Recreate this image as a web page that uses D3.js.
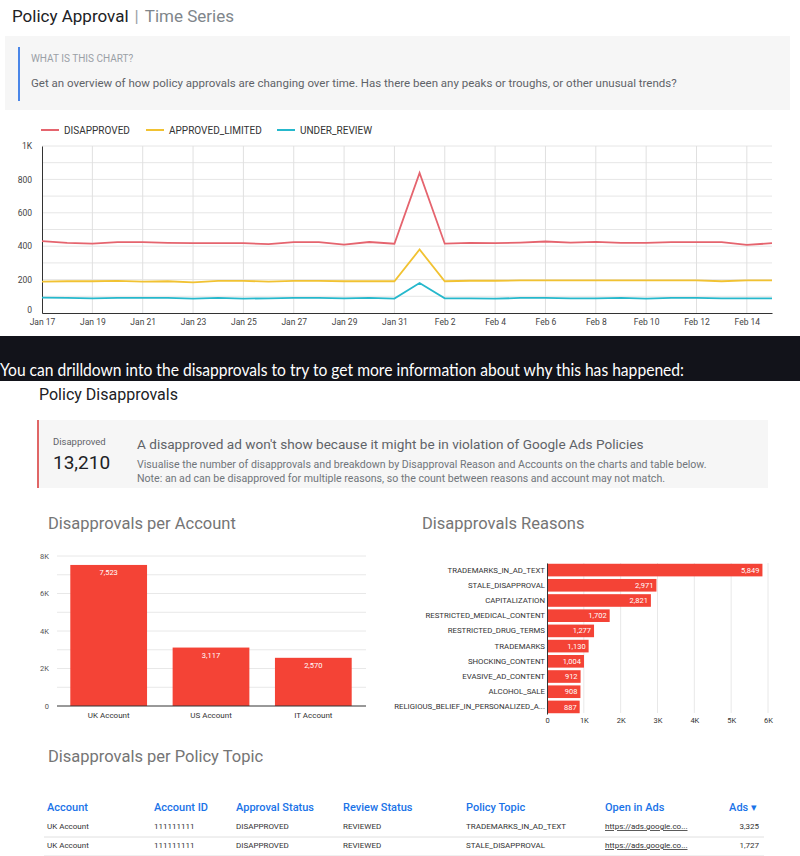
<!DOCTYPE html>
<html><head><meta charset="utf-8">
<script src="https://cdn.jsdelivr.net/npm/d3@7"></script>
<style>
body{margin:0;background:#fff;}
svg{display:block;}
</style></head>
<body>
<svg id="c" width="800" height="856"></svg>
<script>
// ---------- DATA ----------
const startDate = "2021-01-17";
const disapproved = [430,420,415,425,425,420,418,418,418,412,425,425,410,425,415,838,415,420,418,422,428,422,426,420,420,424,425,424,408,418];
const approvedLimited = [188,190,190,192,188,190,183,192,192,188,192,192,190,190,190,380,190,193,193,195,195,195,195,195,195,195,195,190,195,195];
const underReview = [92,90,88,90,90,90,86,90,86,88,90,90,88,90,86,180,88,88,86,90,90,88,88,90,86,90,90,88,88,88];
const seriesNames = ["DISAPPROVED","APPROVED_LIMITED","UNDER_REVIEW"];
const seriesColors = ["#e5646e","#f1c232","#26b8cc"];
const lineYTicks = [0,200,400,600,800,1000];

const accounts = ["UK Account","US Account","IT Account"];
const accountValues = [7523,3117,2570];
const accountYTicks = [0,2000,4000,6000,8000];

const reasons = ["TRADEMARKS_IN_AD_TEXT","STALE_DISAPPROVAL","CAPITALIZATION","RESTRICTED_MEDICAL_CONTENT","RESTRICTED_DRUG_TERMS","TRADEMARKS","SHOCKING_CONTENT","EVASIVE_AD_CONTENT","ALCOHOL_SALE","RELIGIOUS_BELIEF_IN_PERSONALIZED_A..."];
const reasonValues = [5849,2971,2821,1702,1277,1130,1004,912,908,887];
const reasonXTicks = [0,1000,2000,3000,4000,5000,6000];

const tableHeaders = ["Account","Account ID","Approval Status","Review Status","Policy Topic","Open in Ads","Ads ▾"];
const tableRows = [
  ["UK Account","111111111","DISAPPROVED","REVIEWED","TRADEMARKS_IN_AD_TEXT","https://ads.google.co...","3,325"],
  ["UK Account","111111111","DISAPPROVED","REVIEWED","STALE_DISAPPROVAL","https://ads.google.co...","1,727"]
];
const totalDisapproved = "13,210";

// ---------- DRAW ----------
const svg = d3.select("#c");
const F = "Roboto, 'Noto Sans', sans-serif";
const kfmt = d => d===0 ? "0" : (d>=1000 ? d3.format("~s")(d).replace("k","K") : d);

// Header
const h = svg.append("text").attr("x",12).attr("y",22).attr("font-family",F).attr("font-size",17);
h.append("tspan").attr("fill","#202124").text("Policy Approval");
h.append("tspan").attr("fill","#9aa0a6").attr("dx",6).text("|");
h.append("tspan").attr("fill","#80868b").attr("dx",6).text("Time Series");

svg.append("rect").attr("x",5).attr("y",36).attr("width",785).attr("height",74).attr("fill","#f6f6f6");
svg.append("rect").attr("x",18).attr("y",47).attr("width",2).attr("height",54).attr("fill","#4a86e8");
svg.append("text").attr("x",31).attr("y",62).attr("font-family",F).attr("font-size",10).attr("fill","#9aa0a6").text("WHAT IS THIS CHART?");
svg.append("text").attr("x",31).attr("y",87).attr("font-family",F).attr("font-size",11.5).attr("fill","#5f6368")
  .text("Get an overview of how policy approvals are changing over time. Has there been any peaks or troughs, or other unusual trends?");

// Line chart
const parse = d3.timeParse("%Y-%m-%d");
const d0 = parse(startDate);
const dates = disapproved.map((_,i)=>d3.timeDay.offset(d0,i));
const lx = d3.scaleTime().domain([dates[0],dates[dates.length-1]]).range([42,772]);
const ly = d3.scaleLinear().domain([0,1000]).range([313,146]);
const lg = svg.append("g");
lg.selectAll(".hg").data(d3.range(100,1001,100)).join("line")
  .attr("x1",42).attr("x2",772).attr("y1",d=>ly(d)).attr("y2",d=>ly(d)).attr("stroke","#e6e6e6");
const tickDates = dates.filter((d,i)=>i%2===0);
lg.selectAll(".vg").data(tickDates.slice(1)).join("line")
  .attr("x1",d=>lx(d)).attr("x2",d=>lx(d)).attr("y1",146).attr("y2",313).attr("stroke","#e0e0e0");
const lxa = lg.append("g").attr("transform","translate(0,313)")
  .call(d3.axisBottom(lx).tickValues(tickDates).tickFormat(d3.timeFormat("%b %-d")).tickSize(0).tickPadding(6));
lxa.select(".domain").attr("stroke","#333");
lxa.selectAll("text").attr("font-family",F).attr("font-size",8.5).attr("fill","#444");
const lya = lg.append("g").attr("transform","translate(42,0)")
  .call(d3.axisLeft(ly).tickValues(lineYTicks).tickFormat(kfmt).tickSize(0).tickPadding(10));
lya.select(".domain").attr("stroke","#333");
lya.selectAll("text").attr("font-family",F).attr("font-size",8.5).attr("fill","#444");
lya.selectAll(".tick").filter(d=>d===0).select("text").attr("dy","-0.05em");
const allSeries = [disapproved,approvedLimited,underReview];
const line = d3.line().x((d,i)=>lx(dates[i])).y(d=>ly(d));
allSeries.forEach((s,k)=>{
  lg.append("path").datum(s).attr("d",line).attr("fill","none").attr("stroke",seriesColors[k]).attr("stroke-width",1.8);
});
// legend
const legX = [41,146,277];
seriesNames.forEach((n,k)=>{
  const g = svg.append("g").attr("transform",`translate(${legX[k]},130)`);
  g.append("line").attr("x1",0).attr("x2",18).attr("stroke",seriesColors[k]).attr("stroke-width",2);
  g.append("text").attr("x",23).attr("y",4).attr("font-family",F).attr("font-size",10).attr("fill","#333").text(n);
});

// Dark band
svg.append("rect").attr("x",0).attr("y",336).attr("width",800).attr("height",45).attr("fill","#12131a");
svg.append("text").attr("x",0).attr("y",376).attr("font-family","Lato, 'Open Sans', sans-serif").attr("font-size",17).attr("fill","#fff")
  .attr("textLength",684).attr("lengthAdjust","spacingAndGlyphs")
  .text("You can drilldown into the disapprovals to try to get more information about why this has happened:");

// Policy Disapprovals
svg.append("text").attr("x",39).attr("y",400).attr("font-family",F).attr("font-size",16).attr("fill","#202124").text("Policy Disapprovals");
svg.append("rect").attr("x",37).attr("y",420).attr("width",731).attr("height",68).attr("fill","#f6f6f6");
svg.append("rect").attr("x",37).attr("y",420).attr("width",2).attr("height",68).attr("fill","#e06666");
svg.append("text").attr("x",53).attr("y",445).attr("font-family",F).attr("font-size",9.5).attr("fill","#5f6368").text("Disapproved");
svg.append("text").attr("x",53).attr("y",469).attr("font-family",F).attr("font-size",19).attr("fill","#202124").text(totalDisapproved);
svg.append("text").attr("x",137).attr("y",449).attr("font-family",F).attr("font-size",13.6).attr("fill","#5f6368").text("A disapproved ad won't show because it might be in violation of Google Ads Policies");
svg.append("text").attr("x",137).attr("y",468).attr("font-family",F).attr("font-size",10.6).attr("fill","#70757a").text("Visualise the number of disapprovals and breakdown by Disapproval Reason and Accounts on the charts and table below.");
svg.append("text").attr("x",137).attr("y",482).attr("font-family",F).attr("font-size",10.6).attr("fill","#70757a").text("Note: an ad can be disapproved for multiple reasons, so the count between reasons and account may not match.");

// Disapprovals per Account
svg.append("text").attr("x",48).attr("y",529).attr("font-family",F).attr("font-size",16.5).attr("fill","#757575").text("Disapprovals per Account");
const ax = d3.scaleBand().domain(accounts).range([57,365]).paddingInner(0.25).paddingOuter(0.13);
const ay = d3.scaleLinear().domain([0,8000]).range([706,556]);
const ag = svg.append("g");
ag.selectAll(".g").data(d3.range(1000,8001,1000)).join("line")
  .attr("x1",57).attr("x2",366).attr("y1",d=>ay(d)).attr("y2",d=>ay(d)).attr("stroke","#e8e8e8");
ag.selectAll(".b").data(accounts).join("rect")
  .attr("x",d=>ax(d)).attr("width",ax.bandwidth()).attr("y",(d,i)=>ay(accountValues[i])).attr("height",(d,i)=>706-ay(accountValues[i])).attr("fill","#f44336");
ag.selectAll(".l").data(accounts).join("text")
  .attr("x",d=>ax(d)+ax.bandwidth()/2).attr("y",(d,i)=>ay(accountValues[i])+10).attr("text-anchor","middle")
  .attr("font-family",F).attr("font-size",7.5).attr("fill","#fff").text((d,i)=>d3.format(",")(accountValues[i]));
const axa = ag.append("g").attr("transform","translate(0,706)").call(d3.axisBottom(ax).tickSize(0).tickPadding(6));
axa.select(".domain").attr("d","M57,0H366").attr("stroke","#333");
axa.selectAll("text").attr("font-family",F).attr("font-size",8).attr("fill","#333");
const aya = ag.append("g").attr("transform","translate(49,0)").call(d3.axisLeft(ay).tickValues(accountYTicks).tickFormat(kfmt).tickSize(0).tickPadding(0));
aya.select(".domain").remove();
aya.selectAll("text").attr("font-family",F).attr("font-size",7.5).attr("fill","#555");

// Disapprovals Reasons
svg.append("text").attr("x",422).attr("y",529).attr("font-family",F).attr("font-size",16.5).attr("fill","#757575").text("Disapprovals Reasons");
const rx = d3.scaleLinear().domain([0,6000]).range([547,768]);
const ry = d3.scaleBand().domain(reasons).range([563,714]).paddingInner(0.17).paddingOuter(0.05);
const rg = svg.append("g");
rg.selectAll(".g").data(reasonXTicks.slice(1)).join("line")
  .attr("x1",d=>rx(d)).attr("x2",d=>rx(d)).attr("y1",563).attr("y2",713).attr("stroke","#e8e8e8");
rg.selectAll(".b").data(reasons).join("rect")
  .attr("x",547).attr("y",d=>ry(d)).attr("height",ry.bandwidth()).attr("width",(d,i)=>rx(reasonValues[i])-547).attr("fill","#f44336");
rg.selectAll(".l").data(reasons).join("text")
  .attr("x",(d,i)=>rx(reasonValues[i])-3).attr("y",d=>ry(d)+ry.bandwidth()/2+2.6).attr("text-anchor","end")
  .attr("font-family",F).attr("font-size",7.5).attr("fill","#fff").text((d,i)=>d3.format(",")(reasonValues[i]));
const rya = rg.append("g").attr("transform","translate(547,0)").call(d3.axisLeft(ry).tickSize(0).tickPadding(2));
rya.select(".domain").attr("stroke","#333");
rya.selectAll("text").attr("font-family",F).attr("font-size",7.8).attr("fill","#333");
const rxa = rg.append("g").attr("transform","translate(0,714)").call(d3.axisBottom(rx).tickValues(reasonXTicks).tickFormat(kfmt).tickSize(0).tickPadding(4));
rxa.select(".domain").remove();
rxa.selectAll("text").attr("font-family",F).attr("font-size",7.5).attr("fill","#333");

// Table
svg.append("text").attr("x",48).attr("y",762).attr("font-family",F).attr("font-size",16.5).attr("fill","#757575").text("Disapprovals per Policy Topic");
const colX = [47,154,236,343,466,605,757];
const tg = svg.append("g");
tg.selectAll(".h").data(tableHeaders).join("text")
  .attr("x",(d,i)=>colX[i]).attr("y",811).attr("text-anchor",(d,i)=>i===6?"end":"start")
  .attr("font-family",F).attr("font-size",11).attr("font-weight",500).attr("fill","#1a73e8").text(d=>d);
tableRows.forEach((r,ri)=>{
  const y = 829 + ri*19;
  tg.selectAll(".r"+ri).data(r).join("text")
    .attr("x",(d,i)=>i===6?759:colX[i]).attr("y",y).attr("text-anchor",(d,i)=>i===6?"end":"start")
    .attr("font-family",F).attr("font-size",8).attr("fill","#333")
    .attr("text-decoration",(d,i)=>i===5?"underline":null).text(d=>d);
  tg.append("line").attr("x1",44).attr("x2",764).attr("y1",y+8).attr("y2",y+8).attr("stroke","#e0e0e0");
});
</script>
</body></html>
